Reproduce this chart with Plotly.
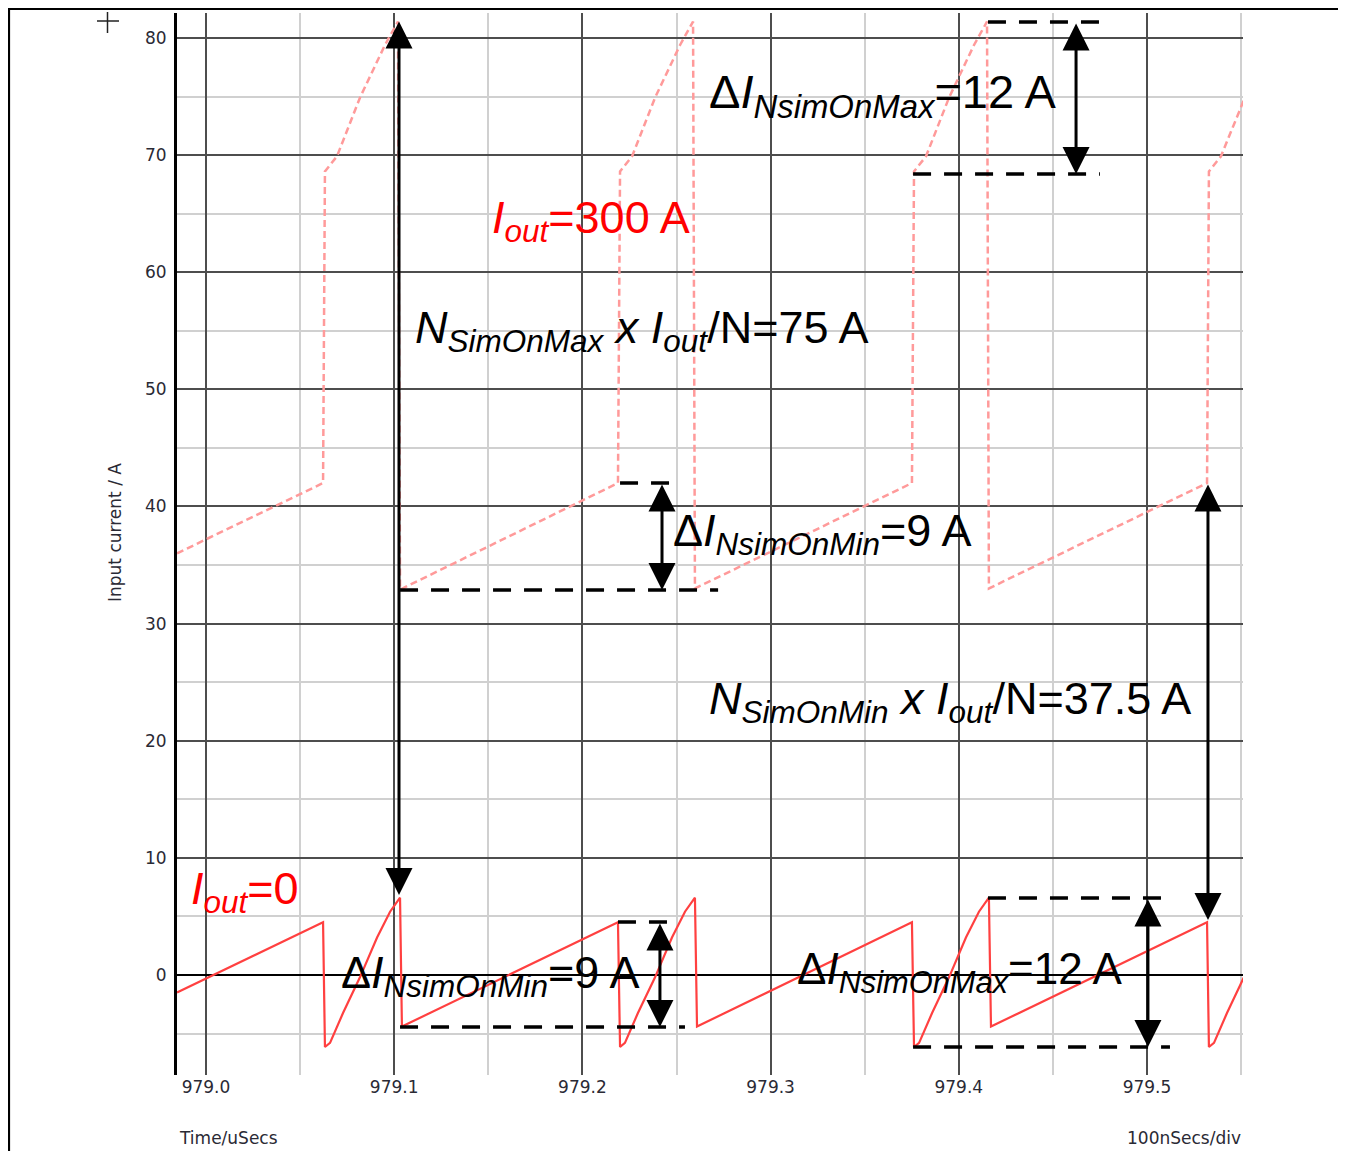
import plotly.graph_objects as go

# ---------------- data ----------------
# Iout = 0 (solid trace): time in µs, current in A
t_iout0 = [978.9846, 979.0622, 979.0632, 979.0659, 979.0728, 979.0818, 979.0909, 979.0978, 979.1031,
           979.1041, 979.2189, 979.2200, 979.2226, 979.2295, 979.2386, 979.2476, 979.2545, 979.2598,
           979.2609, 979.3751, 979.3762, 979.3789, 979.3858, 979.3948, 979.4038, 979.4107, 979.4160,
           979.4171, 979.5319, 979.5329, 979.5356, 979.5425, 979.5515]
i_iout0 = [-1.5, 4.5, -6.15, -5.8, -3.25, -0.2, 3.2, 5.4, 6.6,
           -4.4, 4.5, -6.15, -5.8, -3.25, -0.2, 3.2, 5.4, 6.6,
           -4.4, 4.5, -6.15, -5.8, -3.25, -0.2, 3.2, 5.4, 6.6,
           -4.4, 4.5, -6.15, -5.8, -3.25, -0.2]

# Iout = 300 A (dashed trace)
t_iout300 = [978.9846, 979.0622, 979.0632, 979.0696, 979.0818, 979.0951, 979.1020,
             979.1031, 979.2189, 979.2200, 979.2264, 979.2386, 979.2519, 979.2588,
             979.2598, 979.3751, 979.3762, 979.3826, 979.3948, 979.4081, 979.4150,
             979.4160, 979.5319, 979.5329, 979.5393, 979.5515]
i_iout300 = [36.0, 42.0, 68.6, 69.9, 74.9, 79.4, 81.4,
             32.9, 42.0, 68.6, 69.9, 74.9, 79.4, 81.4,
             33.0, 42.0, 68.6, 69.9, 74.9, 79.4, 81.4,
             33.0, 42.0, 68.6, 69.9, 74.7]

x_ticks = [979.0, 979.1, 979.2, 979.3, 979.4, 979.5]
x_tick_labels = ["979.0", "979.1", "979.2", "979.3", "979.4", "979.5"]
y_ticks = [0, 10, 20, 30, 40, 50, 60, 70, 80]

# measurement levels (A) and times (µs) of the annotation marks
arrows = [  # (t, I_from, I_to)
    (979.10255, 81.54, 6.83),
    (979.4623, 81.37, 68.39),
    (979.2423, 42.0, 32.87),
    (979.5324, 42.0, 4.70),
    (979.2412, 4.53, -4.44),
    (979.5005, 6.57, -6.15),
]
dashed_levels = [  # (I, t_start, t_end)
    (81.37, 979.4155, 979.4750),
    (68.39, 979.3757, 979.4750),
    (42.0, 979.2200, 979.2476),
    (32.87, 979.1031, 979.2721),
    (4.53, 979.2189, 979.2476),
    (-4.44, 979.1031, 979.2545),
    (6.57, 979.4155, 979.5096),
    (-6.15, 979.3757, 979.5122),
]

labels = [  # (html text, colour, t_left, I_centre, font size)
    ("<i>I</i><sub><i>out</i></sub>=300 A", "#ff0000", 979.1509, 64.42, 45),
    ("<i>N</i><sub><i>SimOnMax</i></sub> <i>x</i> <i>I</i><sub><i>out</i></sub>/N=75 A", "black", 979.1100, 55.03, 45),
    ("Δ<i>I</i><sub><i>NsimOnMax</i></sub>=12 A", "black", 979.2660, 75.10, 47),
    ("Δ<i>I</i><sub><i>NsimOnMin</i></sub>=9 A", "black", 979.2469, 37.70, 45),
    ("<i>N</i><sub><i>SimOnMin</i></sub> <i>x</i> <i>I</i><sub><i>out</i></sub>/N=37.5 A", "black", 979.2660, 23.35, 45),
    ("<i>I</i><sub><i>out</i></sub>=0", "#ff0000", 978.9910, 7.13, 45),
    ("Δ<i>I</i><sub><i>NsimOnMin</i></sub>=9 A", "black", 979.0705, -0.04, 45),
    ("Δ<i>I</i><sub><i>NsimOnMax</i></sub>=12 A", "black", 979.3130, 0.215, 44),
]

# ---------------- figure ----------------
# the page body adds an 8 px margin, so the figure is 8 px smaller than the window
OFF = 8
W, H = 1346 - OFF, 1151 - OFF
L, R, T, B = 177 - OFF, 103, 13 - OFF, 76
PW, PH = W - L - R, H - T - B


def px2paper(px, py):
    # px, py: window pixel coordinates
    return (px - 177) / PW, (1075 - py) / PH


fig = go.Figure()
fig.add_trace(go.Scatter(x=t_iout300, y=i_iout300, mode="lines",
                         line=dict(color="#ff9a9a", width=2.5, dash="7px,4px"),
                         showlegend=False, hoverinfo="skip"))
fig.add_trace(go.Scatter(x=t_iout0, y=i_iout0, mode="lines",
                         line=dict(color="#ff4040", width=2.2),
                         showlegend=False, hoverinfo="skip"))

shapes = []
for lev, t0, t1 in dashed_levels:
    shapes.append(dict(type="line", xref="x", yref="y", x0=t0, x1=t1, y0=lev, y1=lev,
                       line=dict(color="black", width=3.5, dash="18px,13px"), layer="above"))


def pline(x0, y0, x1, y1, w, c="black"):
    a0, b0 = px2paper(x0, y0)
    a1, b1 = px2paper(x1, y1)
    return dict(type="line", xref="paper", yref="paper", x0=a0, y0=b0, x1=a1, y1=b1,
                line=dict(color=c, width=w), layer="above")

# frame lines and "+" marker
shapes.append(pline(8, 9, 1360, 9, 2.2))
shapes.append(pline(9, 8, 9, 1160, 2.2))
shapes.append(pline(97, 21, 119, 21, 1.5, "#222"))
shapes.append(pline(107.5, 12, 107.5, 33, 1.5, "#222"))

annotations = []
for t, y0, y1 in arrows:
    annotations.append(dict(x=t, y=y1, ax=t, ay=y0, xref="x", yref="y", axref="x", ayref="y",
                            text="", showarrow=True, arrowside="end+start",
                            arrowhead=2, startarrowhead=2, arrowsize=1.8, startarrowsize=1.8,
                            arrowwidth=3, arrowcolor="black", standoff=0, startstandoff=0))
for txt, col, tx, ty, fs in labels:
    annotations.append(dict(x=tx, y=ty, xref="x", yref="y", text=txt, showarrow=False,
                            xanchor="left", yanchor="middle",
                            font=dict(family="Liberation Sans, Arial", size=fs, color=col)))

small = dict(family="DejaVu Sans", size=17, color="#2a2a35")
ax_, ay_ = px2paper(177, 1138)
annotations.append(dict(x=ax_, y=ay_, xref="paper", yref="paper", text="Time/uSecs",
                        showarrow=False, xanchor="left", yanchor="middle", font=small))
bx_, by_ = px2paper(1243, 1138)
annotations.append(dict(x=bx_, y=by_, xref="paper", yref="paper", text="100nSecs/div",
                        showarrow=False, xanchor="right", yanchor="middle", font=small))
cx_, cy_ = px2paper(115, 533)
annotations.append(dict(x=cx_, y=cy_, xref="paper", yref="paper", text="Input current / A",
                        showarrow=False, xanchor="center", yanchor="middle", textangle=-90,
                        font=small))

fig.update_layout(
    width=W, height=H, autosize=False,
    margin=dict(l=L, r=R, t=T, b=B, pad=0),
    paper_bgcolor="white", plot_bgcolor="white",
    shapes=shapes, annotations=annotations,
    xaxis=dict(range=[978.98459, 979.55101], tickmode="array", tickvals=x_ticks,
               ticktext=x_tick_labels, showgrid=True, gridcolor="#4d4d4d", gridwidth=2,
               minor=dict(dtick=0.05, tick0=979.0, showgrid=True, gridcolor="#d0d0d0", gridwidth=2),
               zeroline=False, showline=False, ticks="", tickfont=small, automargin=False,
               fixedrange=True),
    yaxis=dict(range=[-8.54, 82.13], tickmode="array", tickvals=y_ticks,
               showgrid=True, gridcolor="#4d4d4d", gridwidth=2,
               minor=dict(dtick=5, tick0=0, showgrid=True, gridcolor="#d0d0d0", gridwidth=2),
               zeroline=True, zerolinecolor="black", zerolinewidth=1.5,
               showline=True, linecolor="black", linewidth=3, ticks="",
               ticklabelstandoff=4, tickfont=small, automargin=False, fixedrange=True),
)

fig.write_html("out.html")
